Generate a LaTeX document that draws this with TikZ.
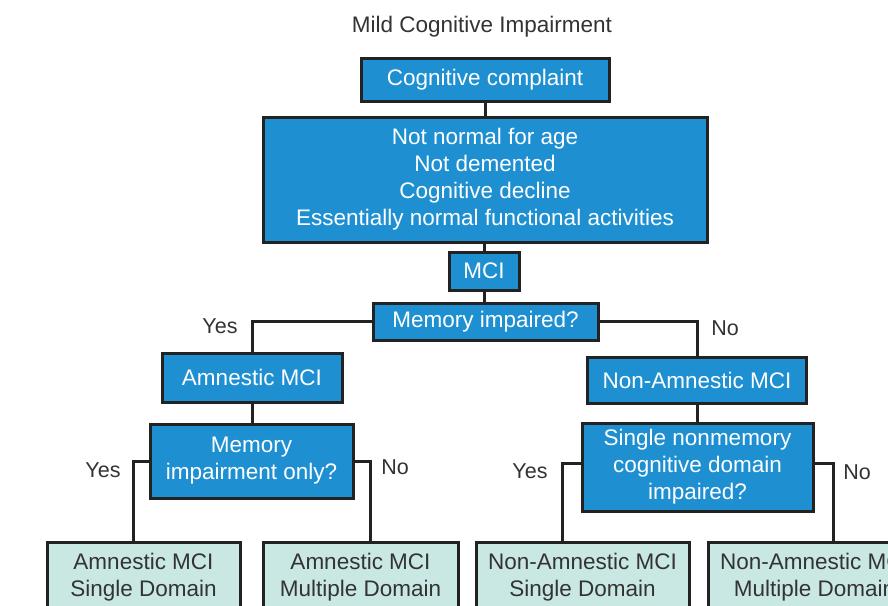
\documentclass[tikz,border=0pt]{standalone}
\usepackage{fontspec}
\setmainfont{Liberation Sans}
\definecolor{boxblue}{HTML}{1E90D2}
\definecolor{leaffill}{HTML}{C9E8E4}
\definecolor{edgec}{HTML}{222222}
\definecolor{txtc}{HTML}{333333}
\begin{document}
\begin{tikzpicture}[x=1pt,y=-1pt,
  bluebox/.style={draw=edgec, line width=3pt, fill=boxblue, text=white, align=center, inner sep=0pt, font=\fontsize{22.5}{27}\selectfont},
  leafbox/.style={draw=edgec, line width=3pt, fill=leaffill, text=txtc, align=center, inner sep=0pt, anchor=north, minimum height=70pt, font=\fontsize{22.5}{27}\selectfont},
  conn/.style={draw=edgec, line width=3pt},
  lab/.style={text=txtc, inner sep=0pt, font=\fontsize{21.5}{25}\selectfont}]
\useasboundingbox (0,0) rectangle (888,605);
\clip (0,0) rectangle (888,605);
\fill[white] (0,0) rectangle (888,605);

\node[text=txtc, inner sep=0pt, font=\fontsize{22.5}{27}\selectfont] (title) at (482,27) {Mild Cognitive Impairment};

\node[bluebox, minimum width=248pt, minimum height=43pt] (cc) at (485,79.5) {Cognitive complaint};
\node[bluebox, minimum width=444pt, minimum height=125pt] (big) at (485,179.5) {Not normal for age\\Not demented\\Cognitive decline\\Essentially normal functional activities};
\node[bluebox, minimum width=70pt, minimum height=38pt] (mci) at (484,271) {MCI};
\node[bluebox, minimum width=225pt, minimum height=37pt] (mem) at (485.5,321.5) {Memory impaired?};
\node[bluebox, minimum width=180pt, minimum height=49pt] (amn) at (252,377.5) {Amnestic MCI};
\node[bluebox, minimum width=203pt, minimum height=74pt] (memonly) at (251.5,461) {Memory\\impairment only?};
\node[bluebox, minimum width=219pt, minimum height=46pt] (namn) at (697,380) {Non-Amnestic MCI};
\node[bluebox, minimum width=231pt, minimum height=88pt] (single) at (697.5,467) {Single nonmemory\\cognitive domain\\impaired?};

\node[leafbox, minimum width=193pt] (l1) at (143.5,541) {Amnestic MCI\\Single Domain};
\node[leafbox, minimum width=195pt] (l2) at (360.5,541) {Amnestic MCI\\Multiple Domain};
\node[leafbox, minimum width=213pt] (l3) at (582.5,541) {Non-Amnestic MCI\\Single Domain};
\node[leafbox, minimum width=213pt] (l4) at (814.5,541) {Non-Amnestic MCI\\Multiple Domain};

\draw[conn] (cc.south) -- (big.north);
\draw[conn] (big.south -| mci.north) -- (mci.north);
\draw[conn] (mci.south) -- (mem.north -| mci.south);
\draw[conn] (mem.west) -| (amn.north);
\draw[conn] (mem.east) -| (namn.north);
\draw[conn] (amn.south) -- (memonly.north -| amn.south);
\draw[conn] (namn.south) -- (single.north -| namn.south);
\draw[conn] (memonly.west) -| ([xshift=-10.5pt]l1.north);
\draw[conn] (memonly.east) -| ([xshift=9.5pt]l2.north);
\draw[conn] ([yshift=4pt]single.west) -| ([xshift=-20.5pt]l3.north);
\draw[conn] ([yshift=4pt]single.east) -| ([xshift=18.5pt]l4.north);

\node[lab] (y1) at (220,326) {Yes};
\node[lab] (n1) at (725,328) {No};
\node[lab] (y2) at (103,470) {Yes};
\node[lab] (n2) at (395,467) {No};
\node[lab] (y3) at (530,471) {Yes};
\node[lab] (n3) at (857,472) {No};
\end{tikzpicture}
\end{document}
